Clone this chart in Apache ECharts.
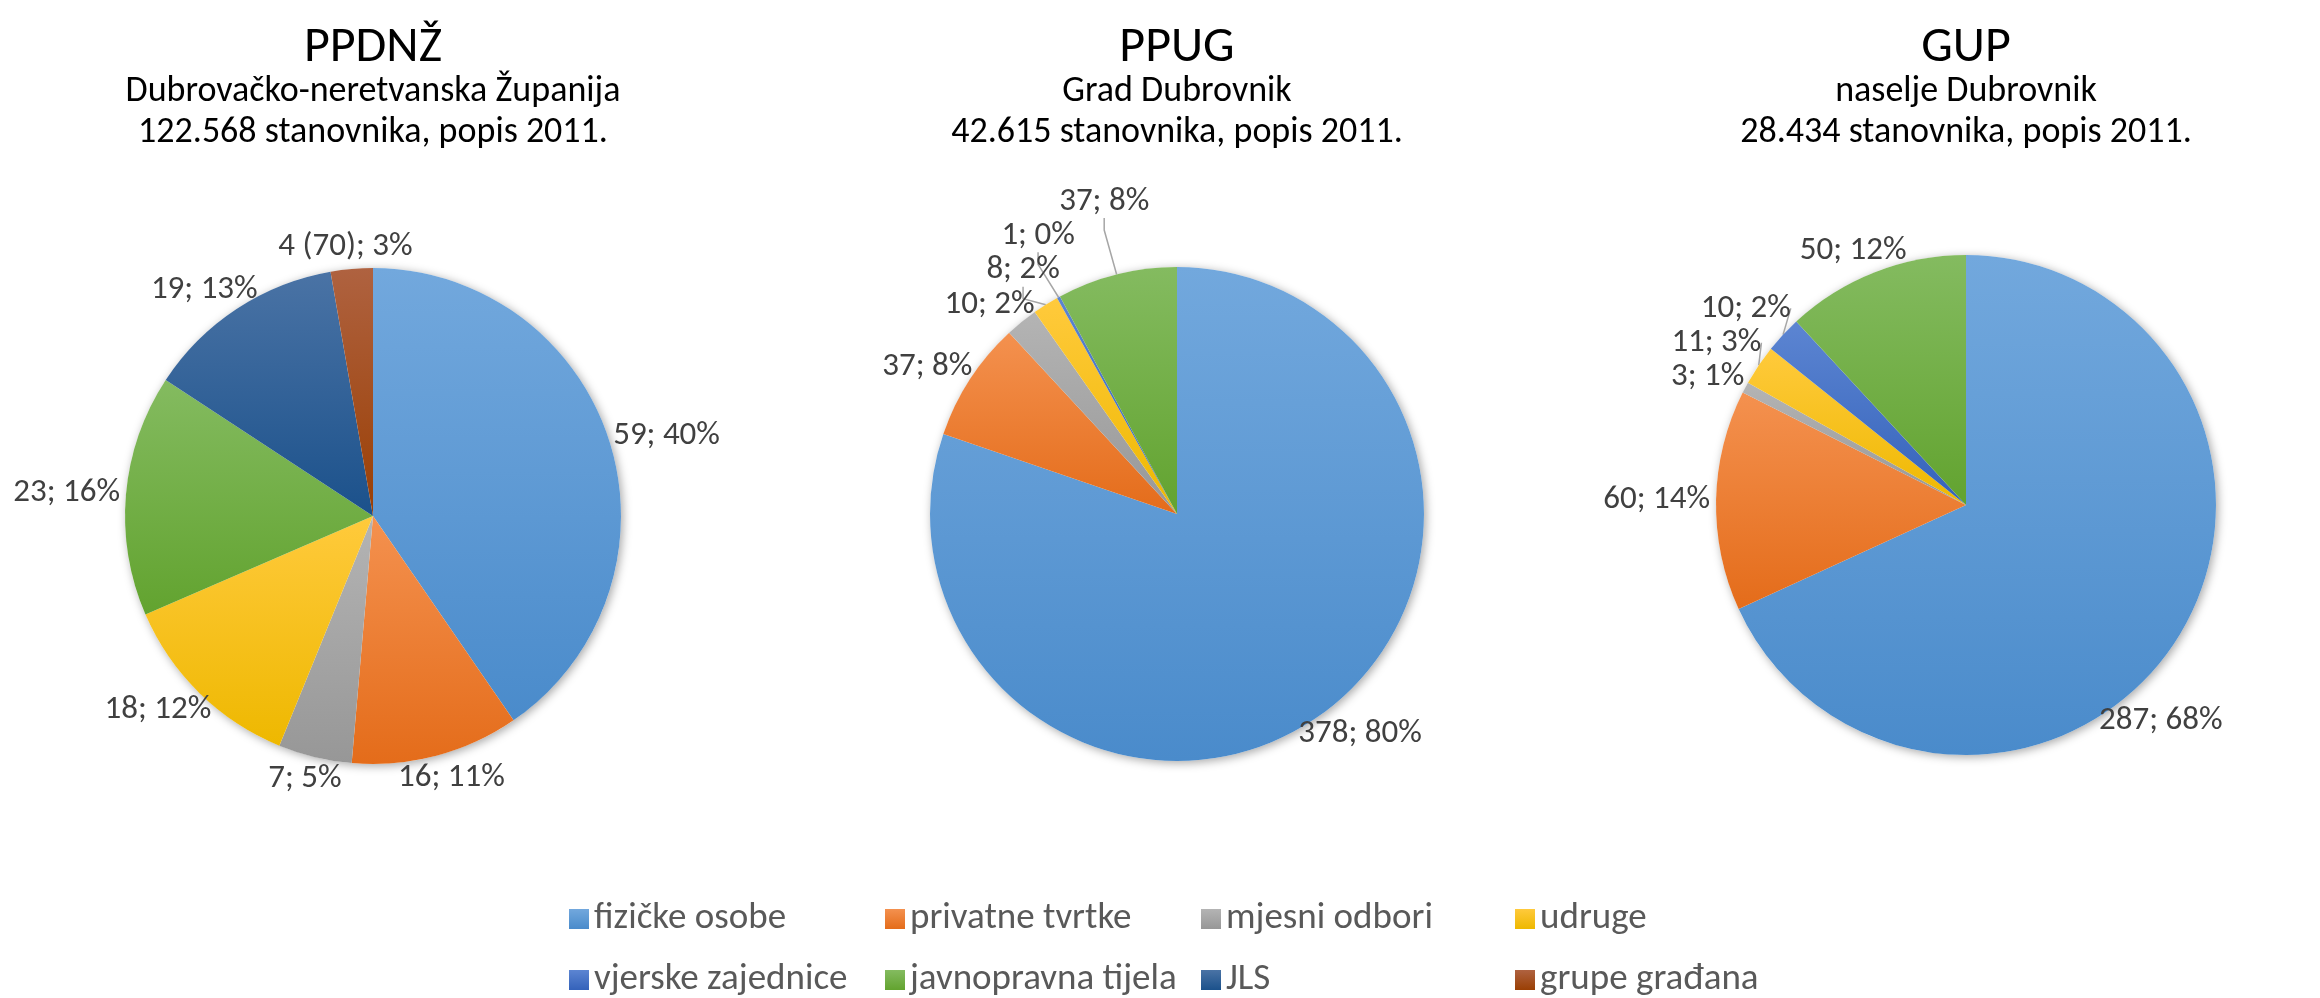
<!DOCTYPE html>
<html>
<head>
<meta charset="utf-8">
<title>Sudionici javne rasprave</title>
<script src="https://cdn.jsdelivr.net/npm/echarts@6/dist/echarts.min.js"></script>
<style>
  html, body { margin: 0; padding: 0; background: #fff; }
  #chart { width: 2320px; height: 998px; }
</style>
</head>
<body>
<div id="chart"></div>
<script>
"use strict";
// kategorije sudionika
var categories = ['fizičke osobe', 'privatne tvrtke', 'mjesni odbori', 'udruge',
    'vjerske zajednice', 'javnopravna tijela', 'JLS', 'grupe građana'];
// broj primjedbi po planu (0 = nema)
var ppdnzValues = [59, 16, 7, 18, 0, 23, 19, 4];
var ppugValues = [378, 37, 10, 8, 1, 37, 0, 0];
var gupValues = [287, 60, 3, 11, 10, 50, 0, 0];
var ppdnzNotes = ['', '', '', '', '', '', '', ' (70)'];
var noNotes = ['', '', '', '', '', '', '', ''];
// naslovi
var titles = ['PPDNŽ', 'PPUG', 'GUP'];
var subtitles = [
    'Dubrovačko-neretvanska Županija\n122.568 stanovnika, popis 2011.',
    'Grad Dubrovnik\n42.615 stanovnika, popis 2011.',
    'naselje Dubrovnik\n28.434 stanovnika, popis 2011.'
];

var FONT = 'Carlito, Lato, sans-serif';
var LABEL_SIZE = 33;
var gradients = [
    ['#72A8DD', '#4A8BCB'],
    ['#F4914F', '#E46C1A'],
    ['#B4B4B4', '#979797'],
    ['#FFCA3C', '#EEB800'],
    ['#5C85D2', '#3462BA'],
    ['#84BB60', '#62A32F'],
    ['#4A73A5', '#1B518B'],
    ['#AF6240', '#9A3F04']
];
function fill(i) {
    return new echarts.graphic.LinearGradient(0, 0, 0, 1, [
        {offset: 0, color: gradients[i][0]},
        {offset: 1, color: gradients[i][1]}
    ]);
}

var pies = [
    {values: ppdnzValues, notes: ppdnzNotes, center: [373, 516], radius: 248},
    {values: ppugValues, notes: noNotes, center: [1177, 514], radius: 247},
    {values: gupValues, notes: noNotes, center: [1966, 505], radius: 250}
];
var LABEL_RIGHT = 2225;

var series = [];
var pieBySeries = {};
pies.forEach(function (p) {
    p.items = [];
    p.values.forEach(function (v, i) {
        if (v > 0) {
            p.items.push({name: categories[i], value: v, note: p.notes[i],
                itemStyle: {color: fill(i)}});
        }
    });
    // sjena ispod kruga
    series.push({
        type: 'pie', silent: true, center: p.center, radius: p.radius,
        z: 1, label: {show: false}, labelLine: {show: false},
        itemStyle: {color: '#fff', shadowBlur: 10, shadowColor: 'rgba(0,0,0,0.35)',
            shadowOffsetX: 2, shadowOffsetY: 2},
        data: [{name: '', value: 1}]
    });
    pieBySeries[series.length] = p;
    series.push({
        type: 'pie', z: 2, center: p.center, radius: p.radius,
        startAngle: 90, clockwise: true, percentPrecision: 0,
        avoidLabelOverlap: false,
        itemStyle: {borderWidth: 0},
        emphasis: {disabled: true},
        label: {
            show: true, position: 'outside', fontFamily: FONT, fontSize: LABEL_SIZE, color: '#404040',
            formatter: function (params) {
                return params.value + params.data.note + '; ' + params.percent + '%';
            }
        },
        labelLine: {show: true, length: 6, length2: 12, lineStyle: {color: '#A6A6A6', width: 1.5}},
        labelLayout: excelLabel,
        data: p.items
    });
});

// smjestaj oznaka kao u Excelu: izvan kruga, uz rub, centrirano na srednjem kutu
var placed = {};
function excelLabel(params) {
    var p = pieBySeries[params.seriesIndex];
    if (!p) return;
    var i = params.dataIndex;
    var total = 0, before = 0;
    p.items.forEach(function (d, k) {
        total += d.value;
        if (k < i) before += d.value;
    });
    var ang = (before + p.items[i].value / 2) / total * 2 * Math.PI;
    var w = params.labelRect.width, h = params.labelRect.height;
    var gap = 6;
    function pos(a) {
        var dx = Math.sin(a), dy = -Math.cos(a);
        return {x: p.center[0] + dx * (p.radius + gap + w / 2), y: p.center[1] + dy * (p.radius + gap + h / 2), dx: dx};
    }
    var q = pos(ang);
    while (q.x + w / 2 > LABEL_RIGHT && ang < Math.PI) {
        ang += 0.01;
        q = pos(ang);
    }
    if (i === 0) placed[params.seriesIndex] = [];
    var list = placed[params.seriesIndex];
    var rowStep = LABEL_SIZE * 1.04;
    var moved = false;
    var prev = list[list.length - 1];
    if (prev && Math.abs(prev.x - q.x) < (prev.w + w) / 2 && Math.abs(prev.y - q.y) < rowStep) {
        q.y = q.dx < 0 ? prev.y - rowStep : prev.y + rowStep;
        moved = true;
    }
    list.push({x: q.x, y: q.y, w: w});
    var out = {x: q.x, y: q.y, align: 'center', verticalAlign: 'middle'};
    if (!moved) out.labelLinePoints = [[q.x, q.y], [q.x, q.y], [q.x, q.y]];
    return out;
}

var titleList = titles.map(function (t, k) {
    return {
        text: t, subtext: subtitles[k], left: pies[k].center[0], top: 21, textAlign: 'center',
        padding: 0, itemGap: -4,
        textStyle: {fontFamily: FONT, fontSize: 50, fontWeight: 'normal', color: '#000', lineHeight: 54},
        subtextStyle: {fontFamily: FONT, fontSize: 36, color: '#000', lineHeight: 41}
    };
});

// legenda: 2 reda x 4 stupca
var legendLeft = [569, 885, 1201, 1515];
var legendTop = [897, 958];
var legends = categories.map(function (name, k) {
    return {
        left: legendLeft[k % 4], top: legendTop[Math.floor(k / 4)],
        itemWidth: 20, itemHeight: 20, icon: 'rect', selectedMode: false, padding: 0,
        textStyle: {fontFamily: FONT, fontSize: 37, color: '#595959', lineHeight: 44},
        data: [name]
    };
});

var chart = echarts.init(document.getElementById('chart'));
chart.setOption({
    backgroundColor: '#fff',
    animation: false,
    title: titleList,
    legend: legends,
    series: series
});
</script>
</body>
</html>
